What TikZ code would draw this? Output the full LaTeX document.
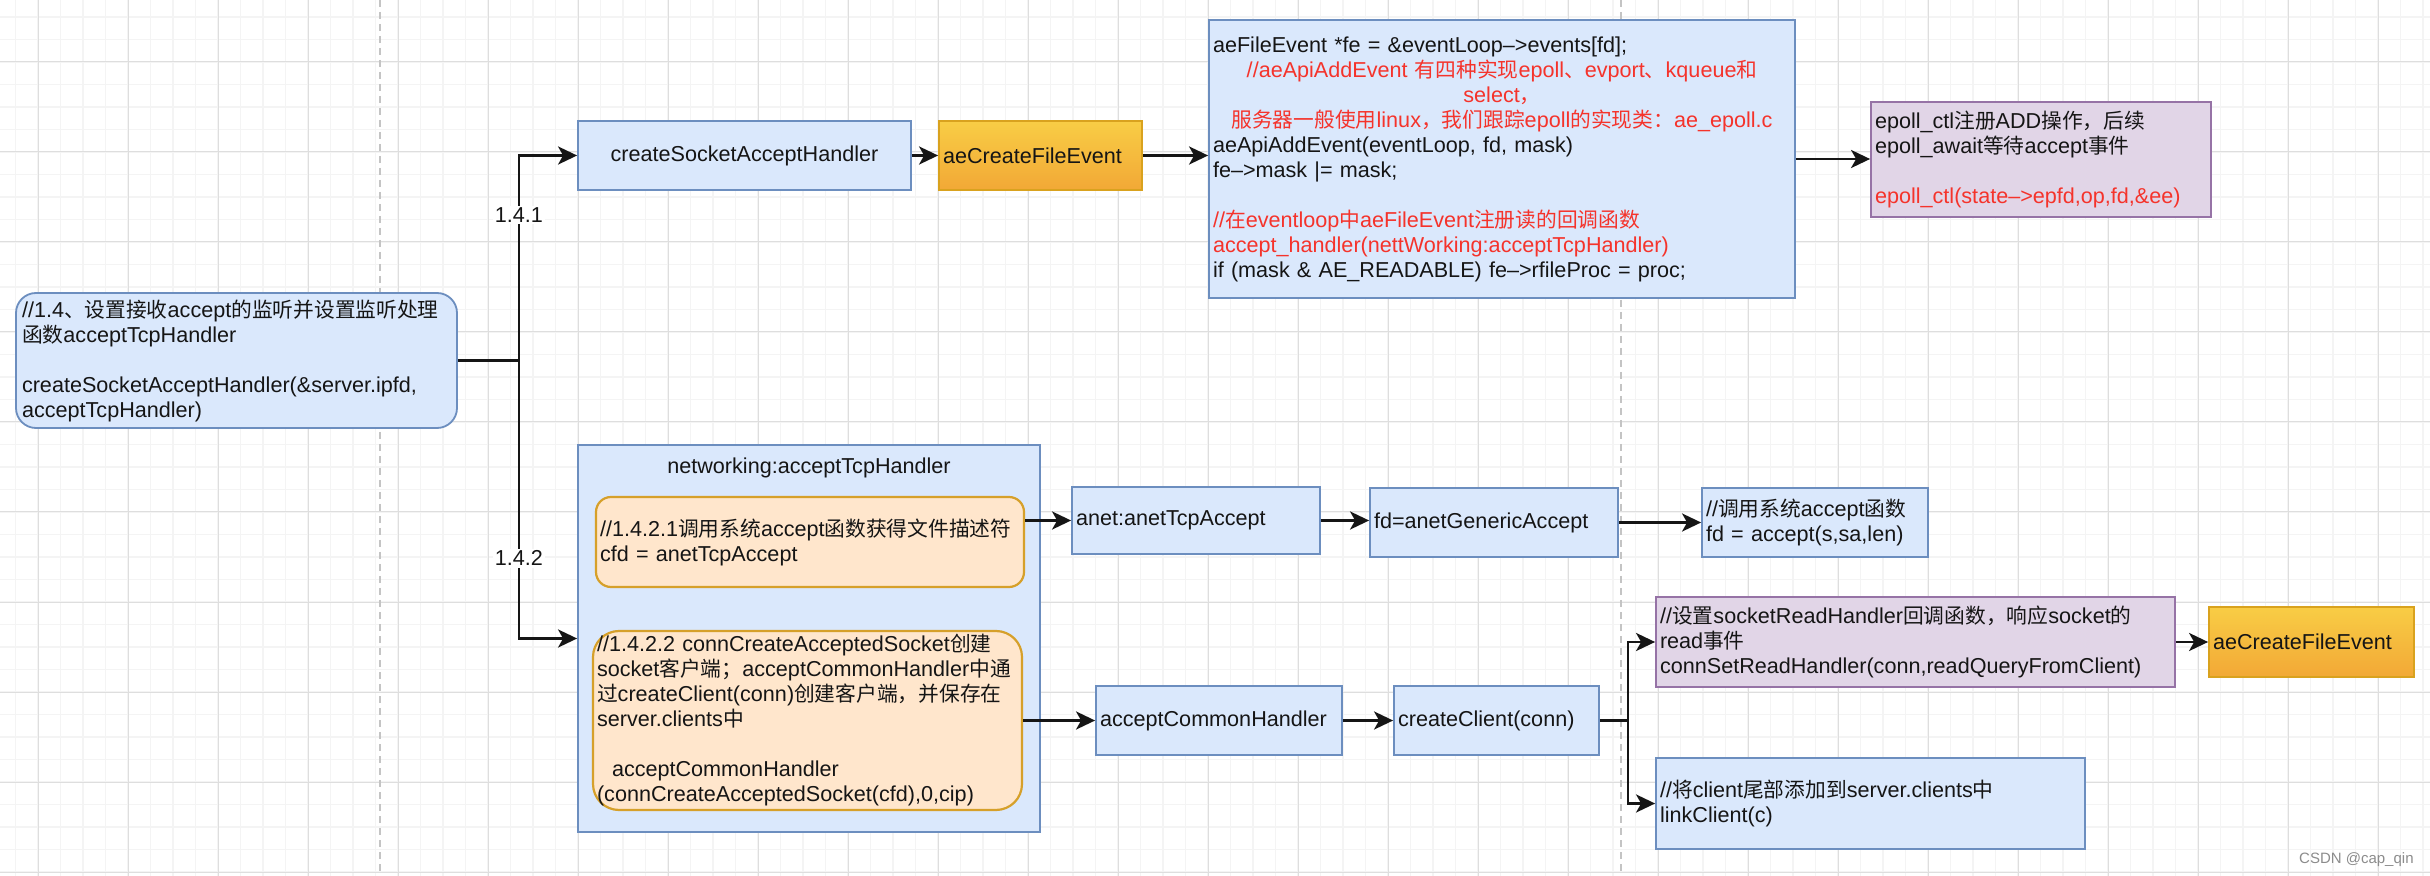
\documentclass[tikz,border=0pt]{standalone}
\usepackage{fontspec}
\setmainfont{Liberation Sans}
\newfontfamily\cjkfont[Scale=0.96]{Noto Sans CJK SC}
\newcommand\zh[1]{{\cjkfont #1}}
\newcommand\ctrline[1]{\leavevmode\hbox to \hsize{\hfil#1\hfil}}
\usetikzlibrary{arrows.meta}
\definecolor{bfill}{HTML}{DAE8FC}
\definecolor{bdraw}{HTML}{6C8EBF}
\definecolor{ofill}{HTML}{FFE6CC}
\definecolor{odraw}{HTML}{D6A02A}
\definecolor{pfill}{HTML}{E1D5E7}
\definecolor{pdraw}{HTML}{9673A6}
\definecolor{gtop}{HTML}{F8CD45}
\definecolor{gbot}{HTML}{F2A836}
\definecolor{gdraw}{HTML}{D9A21E}
\definecolor{rd}{HTML}{F5332B}
\definecolor{txt}{HTML}{151515}
\definecolor{gmin}{HTML}{F4F4F4}
\definecolor{gmaj}{HTML}{DEDEDE}
\definecolor{pagebrk}{HTML}{C4C4C4}
\begin{document}
\begin{tikzpicture}[x=0.5pt,y=-0.5pt,
  base/.style={draw, line width=0.9pt, font=\fontsize{10.8}{12.5}\selectfont, text=txt, inner ysep=0pt, inner xsep=2pt},
  bluebox/.style={base, fill=bfill, draw=bdraw},
  purplebox/.style={base, fill=pfill, draw=pdraw},
  orangebox/.style={base, fill=ofill, draw=odraw, line width=1.1pt},
  goldbox/.style={base, top color=gtop, bottom color=gbot, draw=gdraw},
  lefttext/.style={align=left},
  arr/.style={draw=txt, line width=1.4pt, -{Stealth[length=9.5pt,width=9pt,inset=2.5pt]}},
  edge/.style={draw=txt, line width=1.4pt},
  lbl/.style={fill=white, inner sep=1pt, font=\fontsize{10.8}{12.5}\selectfont, text=txt},
  minorgrid/.style={draw=gmin, line width=0.6pt},
  majorgrid/.style={draw=gmaj, line width=0.5pt},
  pagebreak/.style={draw=pagebrk, line width=0.6pt, dash pattern=on 3.5pt off 2.5pt}
]
\useasboundingbox (0,0) rectangle (2430,876);
\fill[white] (0,0) rectangle (2430,876);
% grid
\foreach \i in {0,...,107} { \draw[minorgrid] ({15.5+22.5*\i},0) -- ({15.5+22.5*\i},876); }
\foreach \i in {0,...,38} { \draw[minorgrid] (0,{17+22.5*\i}) -- (2430,{17+22.5*\i}); }
\foreach \i in {0,...,26} { \draw[majorgrid] ({38+90*\i},0) -- ({38+90*\i},876); }
\foreach \i in {0,...,9} { \draw[majorgrid] (0,{62+90*\i}) -- (2430,{62+90*\i}); }
% page-break lines
\draw[pagebreak] (380,0) -- (380,876);
\draw[pagebreak] (1621,0) -- (1621,876);

% left entry box
\node[bluebox, lefttext, rounded corners=10pt, minimum width=220.5pt, minimum height=67.5pt, text width=214.5pt, inner xsep=3pt] (L) at (236.5,360.5)
 {//1.4\zh{、设置接收}accept\zh{的监听并设置监听处理}\\\zh{函数}acceptTcpHandler\\[12.5pt]createSocketAcceptHandler(\&server.ipfd,\\acceptTcpHandler)};

% top branch
\node[bluebox, minimum width=166.5pt, minimum height=34.5pt] (CS) at (744.5,155.5) {createSocketAcceptHandler};
\node[goldbox, lefttext, minimum width=101.5pt, minimum height=34.5pt, text width=97.5pt] (AE1) at (1040.5,155.5) {aeCreateFileEvent};
\node[bluebox, lefttext, minimum width=293pt, minimum height=139pt, text width=289pt] (B) at (1502,159)
 {aeFileEvent *fe = \&eventLoop–>events[fd];\\
  \ctrline{\color{rd}//aeApiAddEvent \zh{有四种实现}epoll\zh{、}evport\zh{、}kqueue\zh{和}}\\
  \ctrline{\color{rd}select\zh{，}}\\
  \ctrline{\color{rd}\zh{服务器一般使用}linux\zh{，我们跟踪}epoll\zh{的实现类：}ae\_epoll.c}\\
  aeApiAddEvent(eventLoop, fd, mask)\\
  fe–>mask |= mask;\\[12.5pt]
  {\color{rd}//\zh{在}eventloop\zh{中}aeFileEvent\zh{注册读的回调函数}}\\
  {\color{rd}accept\_handler(nettWorking:acceptTcpHandler)}\\
  if (mask \& AE\_READABLE) fe–>rfileProc = proc;};
\node[purplebox, lefttext, minimum width=170pt, minimum height=57.5pt, text width=166pt] (P1) at (2041,159.5)
 {epoll\_ctl\zh{注册}ADD\zh{操作，后续}\\epoll\_await\zh{等待}accept\zh{事件}\\[12.5pt]{\color{rd}epoll\_ctl(state–>epfd,op,fd,\&ee)}};

% bottom branch container
\node[bluebox, minimum width=231pt, minimum height=193.5pt] (N) at (809,638.5) {};
\node[font=\fontsize{10.8}{12.5}\selectfont, text=txt, inner sep=0pt] (Ntitle) at (809,468) {networking:acceptTcpHandler};
\node[orangebox, lefttext, rounded corners=7.5pt, minimum width=214pt, minimum height=45pt, text width=210pt] (O1) at (810,542)
 {//1.4.2.1\zh{调用系统}accept\zh{函数获得文件描述符}\\cfd = anetTcpAccept};
\node[orangebox, lefttext, rounded corners=13pt, minimum width=214.5pt, minimum height=89.5pt, text width=210.5pt] (O2) at (807.5,720.5)
 {//1.4.2.2 connCreateAcceptedSocket\zh{创建}\\socket\zh{客户端；}acceptCommonHandler\zh{中通}\\\zh{过}createClient(conn)\zh{创建客户端，并保存在}\\server.clients\zh{中}\\[12.5pt]\hspace*{7.5pt}acceptCommonHandler\\(connCreateAcceptedSocket(cfd),0,cip)};

\node[bluebox, lefttext, minimum width=124pt, minimum height=33.5pt, text width=120pt] (A) at (1196,520.5) {anet:anetTcpAccept};
\node[bluebox, lefttext, minimum width=124pt, minimum height=34.5pt, text width=120pt] (G) at (1494,522.5) {fd=anetGenericAccept};
\node[bluebox, lefttext, minimum width=113pt, minimum height=34.5pt, text width=109pt] (C) at (1815,522.5) {//\zh{调用系统}accept\zh{函数}\\fd = accept(s,sa,len)};

\node[bluebox, lefttext, minimum width=123pt, minimum height=34.5pt, text width=119pt] (H) at (1219,720.5) {acceptCommonHandler};
\node[bluebox, lefttext, minimum width=102.5pt, minimum height=34.5pt, text width=98.5pt] (CC) at (1496.5,720.5) {createClient(conn)};
\node[purplebox, lefttext, minimum width=259.5pt, minimum height=45pt, text width=255.5pt] (P2) at (1915.5,642)
 {//\zh{设置}socketReadHandler\zh{回调函数，响应}socket\zh{的}\\read\zh{事件}\\connSetReadHandler(conn,readQueryFromClient)};
\node[goldbox, lefttext, minimum width=102.5pt, minimum height=35pt, text width=98.5pt] (AE2) at (2311.5,642) {aeCreateFileEvent};
\node[bluebox, lefttext, minimum width=214.5pt, minimum height=45.5pt, text width=210.5pt] (K) at (1870.5,803.5)
 {//\zh{将}client\zh{尾部添加到}server.clients\zh{中}\\linkClient(c)};

% connectors
\draw[edge] (L.east) -- ++(61,0) coordinate (j1);
\draw[arr] (j1) |- node[lbl, pos=0.355] (l141) {1.4.1} (CS.west);
\draw[arr] (j1) |- node[lbl, pos=0.356] (l142) {1.4.2} (N.west);
\draw[arr] (CS.east) -- (AE1.west);
\draw[arr] (AE1.east) -- (AE1.east -| B.west);
\draw[arr] (B.east) -- (B.east -| P1.west);
\draw[arr] (O1.east |- A.west) -- (A.west);
\draw[arr] (A.east) -- (A.east -| G.west);
\draw[arr] (G.east) -- (C.west);
\draw[arr] (O2.east) -- (O2.east -| H.west);
\draw[arr] (H.east) -- (H.east -| CC.west);
\draw[edge] (CC.east) -- ++(28,0) coordinate (j2);
\draw[arr] (j2) |- (P2.west);
\draw[arr] (j2) |- (K.west);
\draw[arr] (P2.east) -- (AE2.west);

% watermark
\node[anchor=base east, font=\fontsize{7.5}{9}\selectfont, text=black!45, inner sep=0pt] (wm) at (2414,863) {CSDN @cap\_qin};
\end{tikzpicture}
\end{document}
